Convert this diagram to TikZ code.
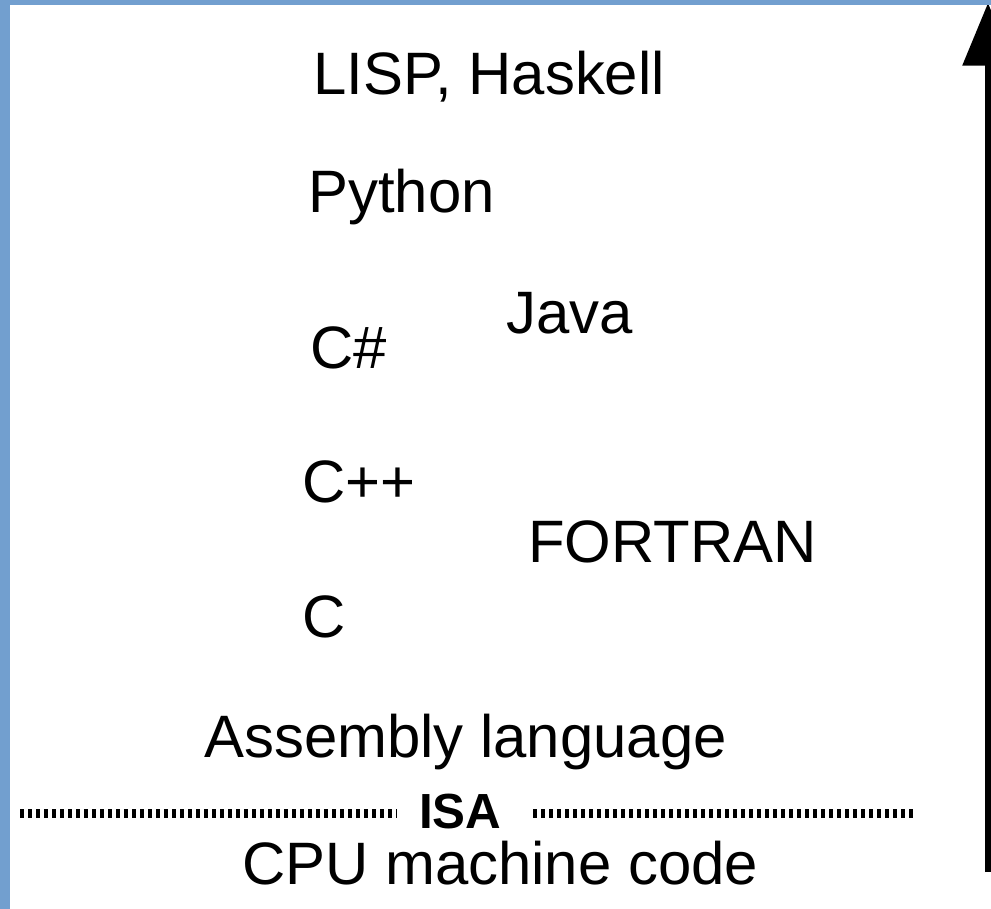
\documentclass[tikz,border=0pt]{standalone}
\usepackage{fontspec}
\setmainfont{Liberation Sans}
\usetikzlibrary{arrows.meta}
\definecolor{frameblue}{HTML}{729FCF}
\begin{document}
\begin{tikzpicture}[x=0.75pt,y=-0.75pt,
  lang/.style={anchor=base west, inner sep=0pt, font=\fontsize{44.9}{50}\selectfont},
  isalabel/.style={anchor=base west, inner sep=0pt, font=\fontsize{37}{40}\selectfont\bfseries},
  isadots/.style={line width=6.75pt, dash pattern=on 2.8pt off 3.2pt},
  levelarrow/.style={line width=4.5pt, -{Triangle[length=47pt,width=37.5pt]}},
  frame/.style={fill=frameblue}]
\useasboundingbox (0,0) rectangle (991,909);
\fill[white] (0,0) rectangle (991,909);
\begin{scope}
\clip (0,0) rectangle (991,909);
\coordinate (abot) at (988,872);
\coordinate (atop) at (988,3);
\draw[levelarrow] (abot) -- (atop);
\end{scope}
\node[lang] (lisp) at (313,95) {LISP, Haskell};
\node[lang] (python) at (308,213) {Python};
\node[lang] (java) at (506,333) {Java};
\node[lang] (csharp) at (310,368) {C\#};
\node[lang] (cpp) at (302,502) {C++};
\node[lang] (fortran) at (528,562) {FORTRAN};
\node[lang] (c) at (302,637) {C};
\node[lang] (asm) at (204,757) {Assembly language};
\node[isalabel] (isa) at (419,828) {ISA};
\node[lang] (cpu) at (242,884) {CPU machine code};
\coordinate (dl1) at (20,813);
\coordinate (dl2) at (397,813);
\coordinate (dr1) at (533,813);
\coordinate (dr2) at (915,813);
\draw[isadots] (dl1) -- (dl2);
\draw[isadots] (dr1) -- (dr2);
\fill[frame] (0,0) rectangle (991,5);
\fill[frame] (0,0) rectangle (10,909);
\end{tikzpicture}
\end{document}
